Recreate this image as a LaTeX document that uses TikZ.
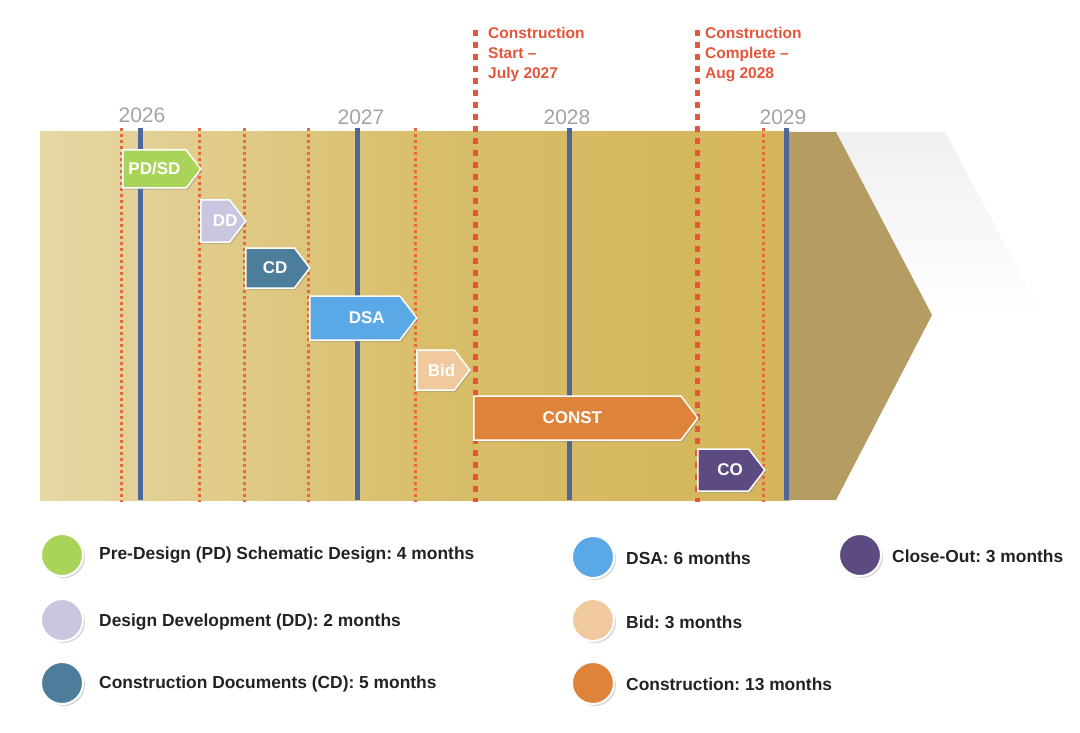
\documentclass[tikz,border=0pt]{standalone}
\usepackage{fontspec}
\setmainfont{Liberation Sans}
\usetikzlibrary{shapes, shapes.symbols, positioning, shadows}
\frenchspacing

\definecolor{bandlight}{HTML}{E6D7A6}
\definecolor{bandmid}{HTML}{D9BE6A}
\definecolor{bandright}{HTML}{D4B55A}
\definecolor{banddark}{HTML}{B59C63}
\definecolor{yearblue}{HTML}{4D679C}
\definecolor{msred}{HTML}{E5553A}
\definecolor{dotorange}{HTML}{E8683C}
\definecolor{yeargray}{HTML}{A3A3A3}
\definecolor{legink}{HTML}{222222}
\definecolor{pdgreen}{HTML}{AAD35A}
\definecolor{ddlav}{HTML}{CBC6E0}
\definecolor{cdsteel}{HTML}{4C7D9B}
\definecolor{dsablue}{HTML}{5AA8E6}
\definecolor{bidpeach}{HTML}{F1C99F}
\definecolor{constorange}{HTML}{DE843A}
\definecolor{copurple}{HTML}{5C4B80}

\begin{document}
\begin{tikzpicture}[x=1pt, y=-1pt,
  phase/.style={signal, signal to=east, signal pointer angle=105, draw=white,
    line width=1.5pt, inner sep=0pt, text=white, anchor=west,
    font=\bfseries\fontsize{17}{17}\selectfont,
    drop shadow={opacity=0.3, shadow xshift=1.5pt, shadow yshift=-2pt}},
  legdot/.style={circle, draw=white, line width=2pt, minimum size=42pt, inner sep=0pt,
    drop shadow={opacity=0.3, shadow xshift=2pt, shadow yshift=-2pt}},
  legtext/.style={anchor=west, inner sep=0pt, text=legink,
    font=\bfseries\fontsize{17.4}{18}\selectfont},
  year/.style={inner sep=0pt, text=yeargray, font=\fontsize{21}{21}\selectfont},
  milestone/.style={anchor=north west, align=left, inner sep=0pt, text=msred,
    font=\bfseries\fontsize{15.5}{20}\selectfont},
  monthline/.style={dotorange, line width=3pt, dash pattern=on 3pt off 3pt},
  yearline/.style={yearblue, line width=5pt},
  keyline/.style={msred, line width=5pt, dash pattern=on 6pt off 6pt}]

  \useasboundingbox (0,0) rectangle (1080,733);

  % band and arrow head
  \shade[top color=black!6, bottom color=white]
    (836,132) -- (945,132) -- (1040,310) -- (932,315) -- cycle;
  \shade[left color=bandlight, right color=bandright, middle color=bandmid]
    (40,132) rectangle (790,500);
  \fill[banddark] (788,132) -- (836,132) -- (932,315) -- (836,500) -- (788,500) -- cycle;

  % months
  \foreach \mx in {121,199,244,308,415,763}
    \draw[monthline] (\mx,128) -- (\mx,502);

  % years
  \node[year] (y2026) at (142,115) {2026};
  \node[year] (y2027) at (361,117) {2027};
  \node[year] (y2028) at (567,117) {2028};
  \node[year] (y2029) at (783,117) {2029};
  \foreach \yx in {140,357,569,786}
    \draw[yearline] (\yx,128) -- (\yx,500);

  % milestones
  \coordinate (start top) at (475,30);
  \coordinate (start bot) at (475,502);
  \coordinate (done top) at (697,30);
  \coordinate (done bot) at (697,502);
  \draw[keyline] (start top) -- (start bot);
  \draw[keyline] (done top) -- (done bot);
  \node[milestone] (start) at (488,27) {Construction\\Start --\\July 2027};
  \node[milestone] (done) at (705,27) {Construction\\Complete --\\Aug 2028};

  % phases
  \node[phase, fill=pdgreen, minimum width=78pt, minimum height=38pt] (pdsd) at (122,169) {PD/SD};
  \node[phase, fill=ddlav, minimum width=45pt, minimum height=42pt] (dd) at (200,221) {\makebox[0pt]{\hspace*{20pt}DD}};
  \node[phase, fill=cdsteel, minimum width=64pt, minimum height=40pt] (cd) at (245,268) {\makebox[0pt]{\hspace*{10pt}CD}};
  \node[phase, fill=dsablue, minimum width=107pt, minimum height=44pt] (dsa) at (309,318) {\makebox[0pt]{\hspace*{24pt}DSA}};
  \node[phase, fill=bidpeach, minimum width=53pt, minimum height=40pt] (bid) at (416,370) {\makebox[0pt]{\hspace*{12pt}Bid}};
  \node[phase, fill=constorange, minimum width=224pt, minimum height=44pt] (const) at (473,418) {\makebox[0pt]{\hspace*{-10pt}CONST}};
  \node[phase, fill=copurple, minimum width=67pt, minimum height=42pt] (co) at (697,470) {\makebox[0pt]{\hspace*{14pt}CO}};

  % legend
  \node[legdot, fill=pdgreen] (kpdsd) at (62,555) {};
  \node[legtext] (tpdsd) at (99,555) {Pre-Design (PD) Schematic Design: 4 months};
  \node[legdot, fill=ddlav] (kdd) at (62,620) {};
  \node[legtext] (tdd) at (99,622) {Design Development (DD): 2 months};
  \node[legdot, fill=cdsteel] (kcd) at (62,683) {};
  \node[legtext] (tcd) at (99,684) {Construction Documents (CD): 5 months};
  \node[legdot, fill=dsablue] (kdsa) at (593,557) {};
  \node[legtext] (tdsa) at (626,558) {DSA: 6 months};
  \node[legdot, fill=bidpeach] (kbid) at (593,620) {};
  \node[legtext] (tbid) at (626,622) {Bid: 3 months};
  \node[legdot, fill=constorange] (kconst) at (593,683) {};
  \node[legtext] (tconst) at (626,684) {Construction: 13 months};
  \node[legdot, fill=copurple] (kco) at (860,555) {};
  \node[legtext] (tco) at (892,556) {Close-Out: 3 months};
\end{tikzpicture}
\end{document}
